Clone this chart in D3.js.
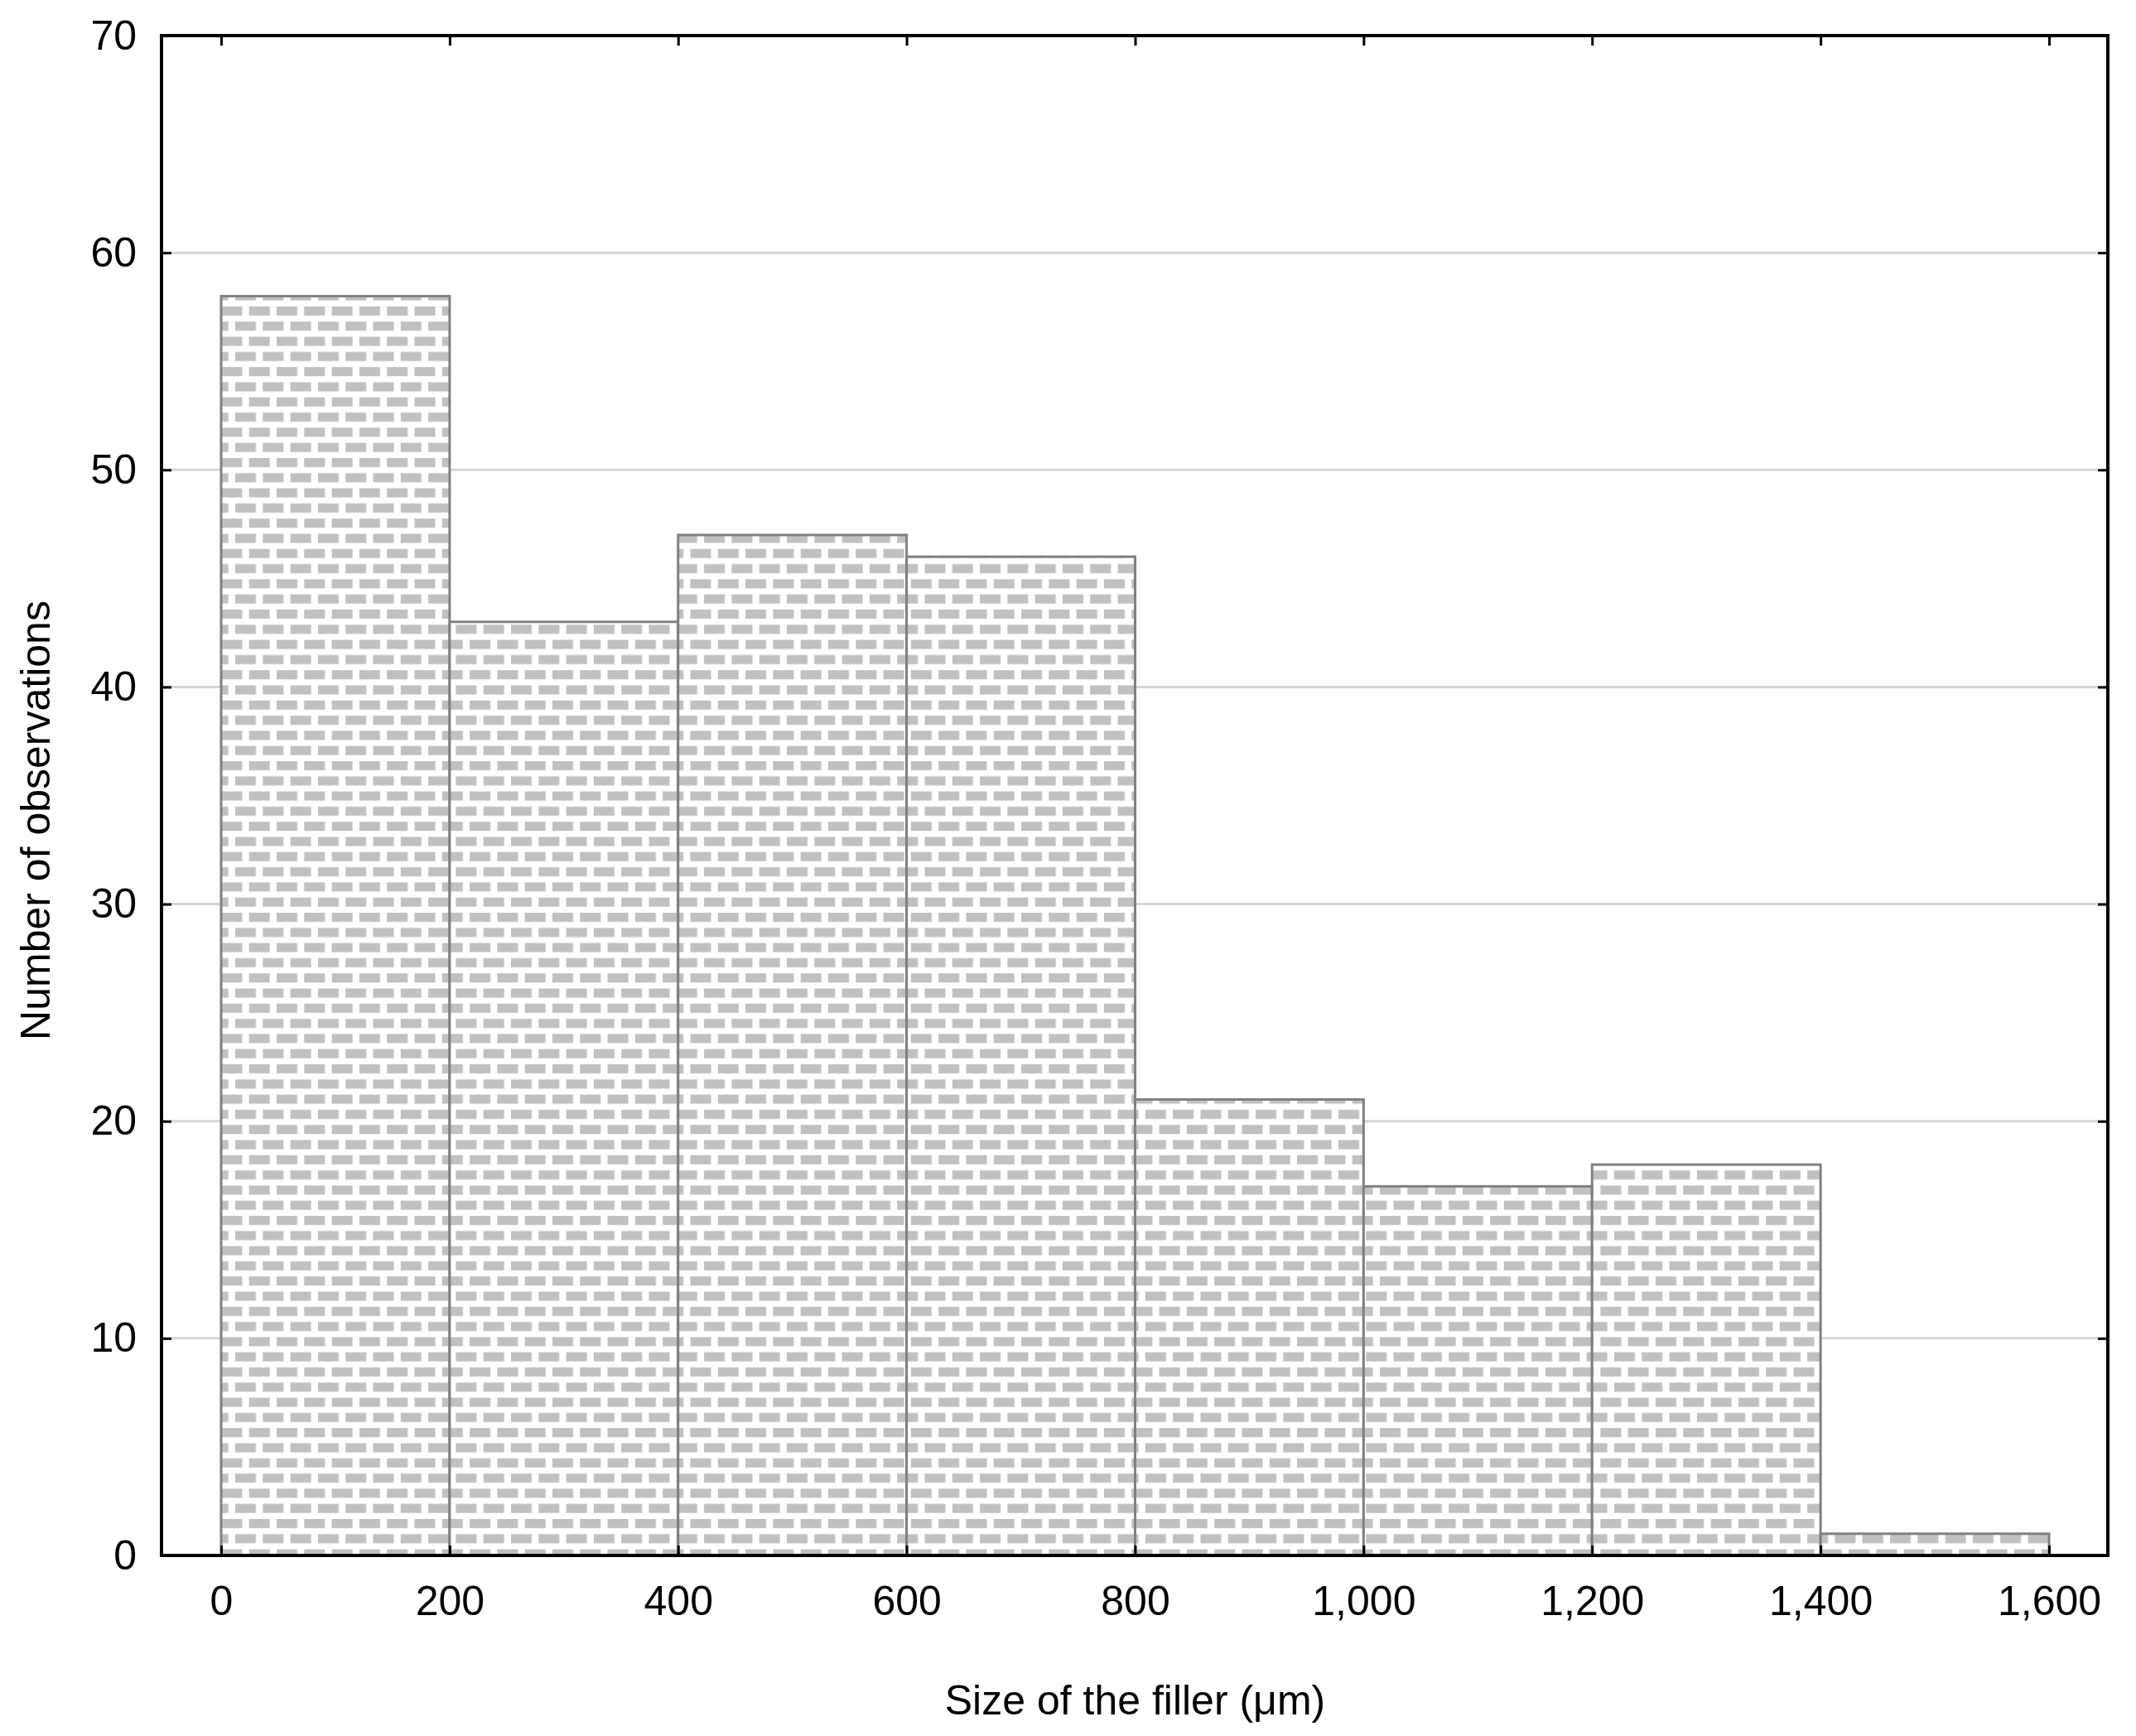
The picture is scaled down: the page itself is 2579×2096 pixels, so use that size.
<!DOCTYPE html>
<html><head><meta charset="utf-8">
<script src="https://cdn.jsdelivr.net/npm/d3@7"></script>
<style>body{margin:0;background:#fff}text{font-family:"Liberation Sans",Arial,sans-serif}</style>
</head><body><div id="chart"></div>
<script>
const binStarts = [0, 200, 400, 600, 800, 1000, 1200, 1400];
const binWidth = 200;
const counts = [58, 43, 47, 46, 21, 17, 18, 1];
const xTicks = [0, 200, 400, 600, 800, 1000, 1200, 1400, 1600];
const yTicks = [0, 10, 20, 30, 40, 50, 60, 70];

const W = 2579, H = 2096;
const frame = { left: 195, top: 43, right: 2545, bottom: 1878 };

const x = d3.scaleLinear().domain([0, 1600]).range([267, 2474]);
const y = d3.scaleLinear().domain([0, 70]).range([frame.bottom, frame.top]);

const svg = d3.select("#chart").append("svg").attr("width", W).attr("height", H);

const pat = svg.append("defs").append("pattern")
  .attr("id", "brick").attr("patternUnits", "userSpaceOnUse")
  .attr("width", 33.3).attr("height", 36.6);
pat.append("rect").attr("width", 33.3).attr("height", 36.6).attr("fill", "#fff");
pat.append("rect").attr("x", 1).attr("y", 4).attr("width", 25).attr("height", 11).attr("fill", "#c0c0c0");
pat.append("rect").attr("x", 17.6).attr("y", 22.3).attr("width", 25).attr("height", 11).attr("fill", "#c0c0c0");
pat.append("rect").attr("x", -15.7).attr("y", 22.3).attr("width", 25).attr("height", 11).attr("fill", "#c0c0c0");

// gridlines
svg.append("g").selectAll("line").data(yTicks.slice(1, -1)).enter().append("line")
  .attr("x1", frame.left).attr("x2", frame.right)
  .attr("y1", d => y(d)).attr("y2", d => y(d))
  .attr("stroke", "#d6d6d6").attr("stroke-width", 3);

// bars
svg.append("g").selectAll("rect").data(counts).enter().append("rect")
  .attr("x", (d, i) => x(binStarts[i]))
  .attr("y", d => y(d))
  .attr("width", x(binWidth) - x(0))
  .attr("height", d => y(0) - y(d))
  .attr("fill", "url(#brick)")
  .attr("stroke", "#808080").attr("stroke-width", 3);

// frame
svg.append("rect").attr("x", frame.left).attr("y", frame.top)
  .attr("width", frame.right - frame.left).attr("height", frame.bottom - frame.top)
  .attr("fill", "none").attr("stroke", "#000").attr("stroke-width", 4);

// axes with inward ticks
const fs = "50px";
const xb = svg.append("g").attr("transform", `translate(0,${frame.bottom})`)
  .call(d3.axisBottom(x).tickValues(xTicks).tickSize(-12).tickPadding(36).tickSizeOuter(0));
const yl = svg.append("g").attr("transform", `translate(${frame.left},0)`)
  .call(d3.axisLeft(y).tickValues(yTicks).tickSize(-12).tickPadding(30).tickSizeOuter(0));
svg.append("g").attr("transform", `translate(0,${frame.top})`)
  .call(d3.axisTop(x).tickValues(xTicks).tickSize(-12).tickFormat("").tickSizeOuter(0));
svg.append("g").attr("transform", `translate(${frame.right},0)`)
  .call(d3.axisRight(y).tickValues(yTicks).tickSize(-12).tickFormat("").tickSizeOuter(0));
svg.selectAll(".domain").remove();
svg.selectAll(".tick line").attr("stroke", "#000").attr("stroke-width", 3);
svg.selectAll(".tick text").style("font-size", fs).attr("fill", "#000")
  .style("font-family", '"Liberation Sans",Arial,sans-serif');

svg.append("text").attr("x", (x(0) + x(1600)) / 2).attr("y", 2070)
  .attr("text-anchor", "middle").style("font-size", "50px")
  .text("Size of the filler (μm)");
svg.append("text").attr("transform", `translate(60,${(frame.top + frame.bottom) / 2 + 30}) rotate(-90)`)
  .attr("text-anchor", "middle").style("font-size", "50px")
  .text("Number of observations");
</script></body></html>
